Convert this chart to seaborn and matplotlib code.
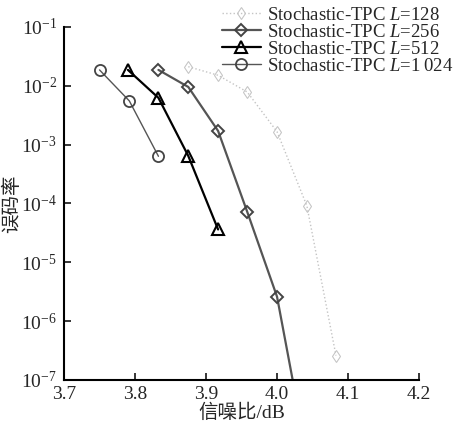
import matplotlib
matplotlib.use("Agg")
import matplotlib.pyplot as plt
import seaborn as sns
import pandas as pd

# data (SNR in dB, bit error rate)
snr_128 = [3.875, 3.917, 3.958, 4.000, 4.042, 4.083]
ber_128 = [2.1e-2, 1.5e-2, 7.8e-3, 1.65e-3, 9.1e-5, 2.6e-7]

snr_256 = [3.833, 3.875, 3.917, 3.958, 4.000, 4.040]
ber_256 = [1.85e-2, 9.5e-3, 1.7e-3, 7.2e-5, 2.6e-6, 7e-9]

snr_512 = [3.790, 3.833, 3.875, 3.917]
ber_512 = [1.85e-2, 6.2e-3, 6.4e-4, 3.6e-5]

snr_1024 = [3.750, 3.792, 3.833]
ber_1024 = [1.85e-2, 5.5e-3, 6.3e-4]

labels = ["Stochastic-TPC $L$=128", "Stochastic-TPC $L$=256",
          "Stochastic-TPC $L$=512", "Stochastic-TPC $L$=1\u2009024"]
x_ticks = [3.7, 3.8, 3.9, 4.0, 4.1, 4.2]

sns.set_style("ticks")
plt.rcParams["font.family"] = ["Liberation Serif", "Noto Sans CJK SC", "DejaVu Sans"]
plt.rcParams["mathtext.fontset"] = "custom"
plt.rcParams["mathtext.rm"] = "Liberation Serif"
plt.rcParams["mathtext.it"] = "Liberation Serif:italic"
plt.rcParams["xtick.direction"] = "in"
plt.rcParams["ytick.direction"] = "in"

fig = plt.figure(figsize=(4.54, 4.25), dpi=100)
ax = fig.add_axes([0.141, 0.106, 0.782, 0.831])

series = [
    (snr_128, ber_128, dict(color="#c4c4c4", linestyle=":", linewidth=1.0, marker="d",
                            markersize=6, markerfacecolor="none", markeredgecolor="#c4c4c4")),
    (snr_256, ber_256, dict(color="#555555", linestyle="-", linewidth=1.6, marker="D",
                            markersize=6, markerfacecolor="none", markeredgecolor="#444444",
                            markeredgewidth=1.4)),
    (snr_512, ber_512, dict(color="black", linestyle="-", linewidth=1.6, marker="^",
                            markersize=9, markerfacecolor="none", markeredgecolor="black",
                            markeredgewidth=1.5)),
    (snr_1024, ber_1024, dict(color="#555555", linestyle="-", linewidth=1.0, marker="o",
                              markersize=8, markerfacecolor="none", markeredgecolor="#444444",
                              markeredgewidth=1.3)),
]

for (x, y, style), lab in zip(series, labels):
    df = pd.DataFrame({"snr": x, "ber": y})
    sns.lineplot(data=df, x="snr", y="ber", ax=ax, sort=False, estimator=None,
                 label=lab, **style)

ax.set_yscale("log")
ax.set_ylim(1e-7, 1e-1)
ax.set_xlim(3.7, 4.2)
ax.set_xticks(x_ticks)
ax.set_xticklabels([f"{v:.1f}" for v in x_ticks])
ax.minorticks_off()
ax.tick_params(labelsize=14, width=1.3, length=5, pad=4)
ax.tick_params(axis="y", pad=5)
for s in ["top", "right"]:
    ax.spines[s].set_visible(False)
for s in ["left", "bottom"]:
    ax.spines[s].set_linewidth(1.5)
    ax.spines[s].set_color("black")

ax.set_xlabel("信噪比/dB", fontsize=14, labelpad=1)
ax.set_ylabel("误码率", fontsize=14)
ax.yaxis.set_label_coords(-0.12, 0.5)

ax.legend(loc="upper right", bbox_to_anchor=(0.998, 0.985), bbox_transform=fig.transFigure,
          frameon=False, fontsize=13.5, handlelength=2.1, handletextpad=0.3,
          labelspacing=0.0, borderaxespad=0.0, borderpad=0.0)

fig.savefig("out.png", dpi=100)
